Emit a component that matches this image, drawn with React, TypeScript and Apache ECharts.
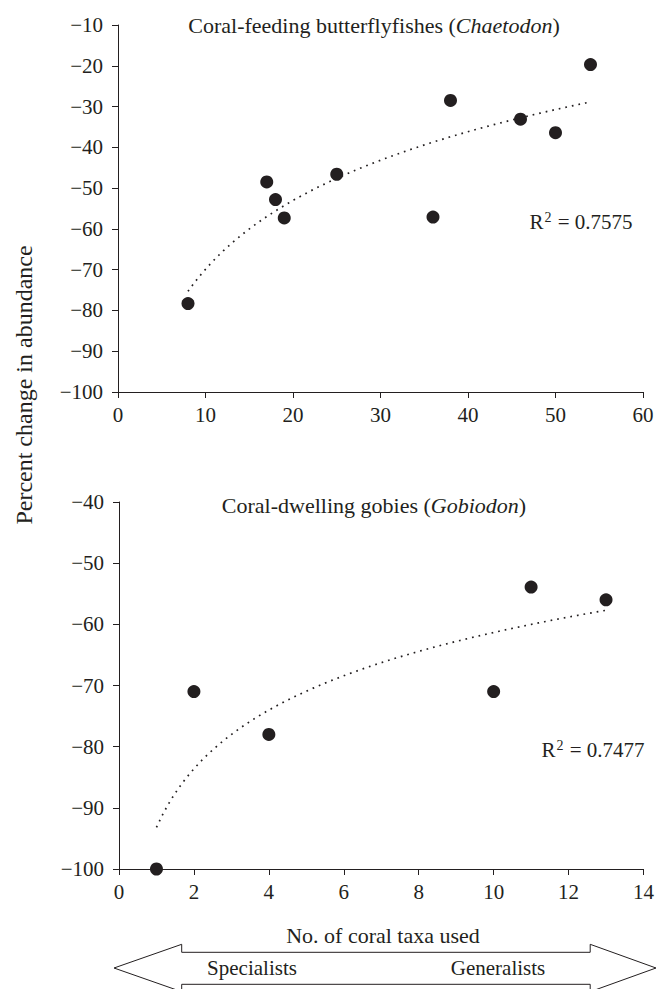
import React, { useEffect, useRef } from "react";
import * as echarts from "echarts";

// Top panel: coral-feeding butterflyfishes (Chaetodon)
const chaetodonTaxa = [8, 17, 18, 19, 25, 36, 38, 46, 50, 54];
const chaetodonChange = [-78.3, -48.5, -52.8, -57.3, -46.6, -57.1, -28.5, -33.1, -36.4, -19.7];
const chaetodonR2 = "0.7575";

// Bottom panel: coral-dwelling gobies (Gobiodon)
const gobiodonTaxa = [1, 2, 4, 10, 11, 13];
const gobiodonChange = [-100, -71, -78, -71, -53.9, -56];
const gobiodonR2 = "0.7477";

const topXTicks = { min: 0, max: 60, interval: 10 };
const topYTicks = { min: -100, max: -10, interval: 10 };
const botXTicks = { min: 0, max: 14, interval: 2 };
const botYTicks = { min: -100, max: -40, interval: 10 };

const INK = "#231f20";
const FONT = "Liberation Serif";

// least-squares logarithmic fit y = a ln(x) + b, drawn from the data
function logTrend(xs: number[], ys: number[]) {
  const lx = xs.map((x) => Math.log(x));
  const n = xs.length;
  const mx = lx.reduce((s, v) => s + v, 0) / n;
  const my = ys.reduce((s, v) => s + v, 0) / n;
  let sxy = 0;
  let sxx = 0;
  for (let i = 0; i < n; i++) {
    sxy += (lx[i] - mx) * (ys[i] - my);
    sxx += (lx[i] - mx) * (lx[i] - mx);
  }
  const a = sxy / sxx;
  const b = my - a * mx;
  const x0 = Math.min(...xs);
  const x1 = Math.max(...xs);
  const pts: number[][] = [];
  const steps = 80;
  for (let i = 0; i <= steps; i++) {
    const x = x0 + ((x1 - x0) * i) / steps;
    pts.push([x, a * Math.log(x) + b]);
  }
  return pts;
}

const minusFmt = (v: number) => String(v).replace("-", "\u2212");

function axisX(idx: number, t: { min: number; max: number; interval: number }) {
  return {
    type: "value",
    gridIndex: idx,
    min: t.min,
    max: t.max,
    interval: t.interval,
    axisLine: { show: true, onZero: false, lineStyle: { color: INK, width: 1 } },
    axisTick: { show: true, inside: false, length: 6, lineStyle: { color: INK } },
    axisLabel: { color: INK, fontFamily: FONT, fontSize: 21, margin: 12, formatter: minusFmt },
    splitLine: { show: false },
  };
}

function axisY(idx: number, t: { min: number; max: number; interval: number }) {
  return {
    type: "value",
    gridIndex: idx,
    min: t.min,
    max: t.max,
    interval: t.interval,
    axisLine: { show: true, onZero: false, lineStyle: { color: INK, width: 1 } },
    axisTick: { show: true, inside: false, length: 6, lineStyle: { color: INK } },
    axisLabel: { color: INK, fontFamily: FONT, fontSize: 21, margin: 15, formatter: minusFmt },
    splitLine: { show: false },
  };
}

function scatter(idx: number, xs: number[], ys: number[]) {
  return {
    type: "scatter",
    xAxisIndex: idx,
    yAxisIndex: idx,
    data: xs.map((x, i) => [x, ys[i]]),
    symbol: "circle",
    symbolSize: 13,
    itemStyle: { color: INK, opacity: 1 },
    z: 3,
  };
}

function trend(idx: number, xs: number[], ys: number[]) {
  return {
    type: "line",
    xAxisIndex: idx,
    yAxisIndex: idx,
    data: logTrend(xs, ys),
    showSymbol: false,
    symbol: "none",
    smooth: false,
    lineStyle: { color: INK, width: 1.7, type: [1.7, 5] },
    z: 2,
  };
}

const textStyle = (size: number) => ({ fontFamily: FONT, fontSize: size, fill: INK });

function titleText(x: number, y: number, plain: string, italic: string) {
  return {
    type: "text",
    x,
    y,
    style: {
      text: `{n|${plain} (}{i|${italic}}{n|)}`,
      align: "center",
      verticalAlign: "middle",
      fontFamily: FONT,
      fontSize: 22,
      fill: INK,
      rich: {
        n: { fontFamily: FONT, fontSize: 22, fill: INK, color: INK },
        i: { fontFamily: FONT, fontSize: 22, fontStyle: "italic", fill: INK, color: INK },
      },
    },
  };
}

function r2Text(x: number, y: number, val: string) {
  return {
    type: "text",
    x,
    y,
    style: {
      text: `{n|R}{s|2}{n| = ${val}}`,
      align: "center",
      verticalAlign: "middle",
      fontFamily: FONT,
      fontSize: 21,
      fill: INK,
      rich: {
        n: { fontFamily: FONT, fontSize: 21, color: INK },
        s: { fontFamily: FONT, fontSize: 14, color: INK, padding: [0, 1, 10, 1] },
      },
    },
  };
}

export default function App() {
  const ref = useRef<HTMLDivElement>(null);
  useEffect(() => {
    if (!ref.current) return;
    const chart = echarts.init(ref.current, null, { renderer: "svg" });
    chart.setOption({
      animation: false,
      backgroundColor: "#ffffff",
      grid: [
        { left: 118, top: 25, width: 525, height: 367 },
        { left: 119, top: 502, width: 525, height: 367 },
      ],
      xAxis: [axisX(0, topXTicks), axisX(1, botXTicks)],
      yAxis: [axisY(0, topYTicks), axisY(1, botYTicks)],
      series: [
        trend(0, chaetodonTaxa, chaetodonChange),
        scatter(0, chaetodonTaxa, chaetodonChange),
        trend(1, gobiodonTaxa, gobiodonChange),
        scatter(1, gobiodonTaxa, gobiodonChange),
      ],
      graphic: [
        titleText(374, 25, "Coral-feeding butterflyfishes", "Chaetodon"),
        titleText(374, 505, "Coral-dwelling gobies", "Gobiodon"),
        r2Text(581, 222, chaetodonR2),
        r2Text(593, 750, gobiodonR2),
        {
          type: "text",
          x: 24,
          y: 385,
          rotation: Math.PI / 2,
          style: {
            ...textStyle(24),
            text: "Percent change in abundance",
            align: "center",
            verticalAlign: "middle",
          },
        },
        {
          type: "text",
          x: 383,
          y: 935,
          style: { ...textStyle(22), text: "No. of coral taxa used", align: "center", verticalAlign: "middle" },
        },
        {
          type: "polygon",
          shape: {
            points: [
              [114, 968],
              [181.7, 944.3],
              [181.7, 952.3],
              [590.2, 952.3],
              [590.2, 944.3],
              [656, 968],
              [590.2, 991.7],
              [590.2, 984.3],
              [181.7, 984.3],
              [181.7, 991.7],
            ],
          },
          style: { fill: "#ffffff", stroke: INK, lineWidth: 1 },
        },
        {
          type: "text",
          x: 252,
          y: 968,
          style: { ...textStyle(21), text: "Specialists", align: "center", verticalAlign: "middle" },
          z: 10,
        },
        {
          type: "text",
          x: 498,
          y: 968,
          style: { ...textStyle(21), text: "Generalists", align: "center", verticalAlign: "middle" },
          z: 10,
        },
      ],
    });
    return () => chart.dispose();
  }, []);
  return (
    <div
      ref={ref}
      style={{ position: "fixed", left: 0, top: 0, width: 657, height: 989, background: "#fff" }}
    />
  );
}
